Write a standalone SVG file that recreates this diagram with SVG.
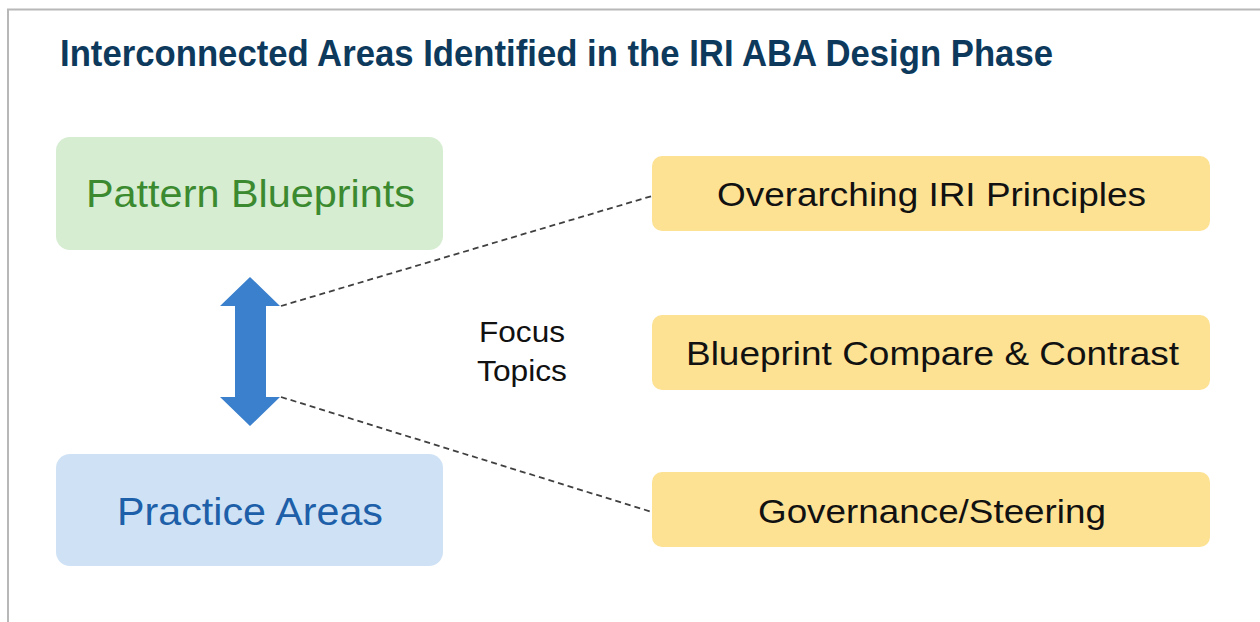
<svg xmlns="http://www.w3.org/2000/svg" width="1260" height="622" viewBox="0 0 1260 622">
  <style>
    .title { font-family: "Liberation Sans", Arial, sans-serif; font-weight: bold; font-size: 37px; fill: #0d3a5c; }
    .lbl { font-family: "Liberation Sans", Arial, sans-serif; text-anchor: middle; }
    .big { font-size: 39px; }
    .topic { font-size: 33px; fill: #111111; }
    .focus { font-size: 29px; fill: #111111; }
    .yel { fill: #fde294; }
    .dash { fill: none; stroke: #404040; stroke-width: 1.8; stroke-dasharray: 6 4; }
  </style>
  <rect x="0" y="0" width="1260" height="622" fill="#ffffff"/>
  <path d="M8 622 V9.5 H1260" fill="none" stroke="#b8b8b8" stroke-width="2"/>
  <text class="title" x="60" y="66" textLength="993" lengthAdjust="spacingAndGlyphs">Interconnected Areas Identified in the IRI ABA Design Phase</text>

  <g id="connectors">
    <line class="dash" x1="281" y1="306" x2="652" y2="196"/>
    <line class="dash" x1="281" y1="397" x2="652" y2="512"/>
  </g>

  <g id="pattern-blueprints">
    <rect x="56" y="137" width="387" height="113" rx="14" fill="#d6edd1"/>
    <text class="lbl big" x="250.5" y="207" fill="#3b8a2f" textLength="329" lengthAdjust="spacingAndGlyphs">Pattern Blueprints</text>
  </g>

  <g id="practice-areas">
    <rect x="56" y="454" width="387" height="112" rx="14" fill="#cfe2f5"/>
    <text class="lbl big" x="250" y="525" fill="#1d5fa8" textLength="266" lengthAdjust="spacingAndGlyphs">Practice Areas</text>
  </g>

  <g id="double-arrow">
    <polygon points="250,277 280,306 266,306 266,397 280,397 250,426 220,397 235,397 235,306 220,306" fill="#3b80cd"/>
  </g>

  <g id="focus-topics">
    <text class="lbl focus" x="522" y="342" textLength="86" lengthAdjust="spacingAndGlyphs">Focus</text>
    <text class="lbl focus" x="522" y="381" textLength="90" lengthAdjust="spacingAndGlyphs">Topics</text>
  </g>

  <g id="overarching-iri-principles">
    <rect class="yel" x="652" y="156" width="558" height="75" rx="10"/>
    <text class="lbl topic" x="931.5" y="206" textLength="429" lengthAdjust="spacingAndGlyphs">Overarching IRI Principles</text>
  </g>

  <g id="blueprint-compare-contrast">
    <rect class="yel" x="652" y="315" width="558" height="75" rx="10"/>
    <text class="lbl topic" x="932.5" y="365" textLength="493" lengthAdjust="spacingAndGlyphs">Blueprint Compare &amp; Contrast</text>
  </g>

  <g id="governance-steering">
    <rect class="yel" x="652" y="472" width="558" height="75" rx="10"/>
    <text class="lbl topic" x="932" y="523" textLength="348" lengthAdjust="spacingAndGlyphs">Governance/Steering</text>
  </g>
</svg>
